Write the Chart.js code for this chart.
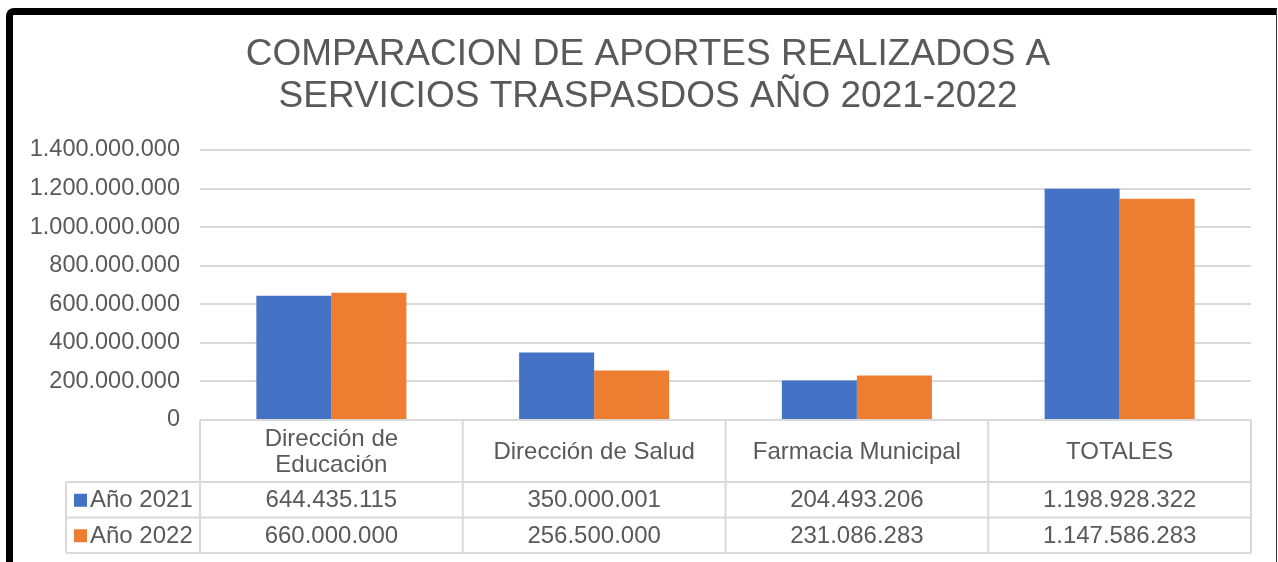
<!DOCTYPE html>
<html>
<head>
<meta charset="utf-8">
<script src="https://cdn.jsdelivr.net/npm/chart.js@4"></script>
<style>
  html, body { margin: 0; padding: 0; background: #fff; }
  #wrap { position: relative; width: 1278px; height: 562px; overflow: hidden; }
  #frame {
    position: absolute; left: 6px; top: 8px; width: 1263px; height: 600px;
    border-top: 7px solid #000; border-left: 7px solid #000; border-right: 1px solid #333;
    border-top-left-radius: 8px;
  }
  #box { position: absolute; left: 0; top: 0; width: 1278px; height: 562px; }
</style>
</head>
<body>
<div id="wrap">
  <div id="frame"></div>
  <div id="box"><canvas id="barChart"></canvas></div>
</div>
<script>
// data
const categories = [['Dirección de', 'Educación'], 'Dirección de Salud', 'Farmacia Municipal', 'TOTALES'];
const seriesNames = ['Año 2021', 'Año 2022'];
const year2021 = [644435115, 350000001, 204493206, 1198928322];
const year2022 = [660000000, 256500000, 231086283, 1147586283];
const yMin = 0, yMax = 1400000000, yStep = 200000000;

const textColor = '#595959';
const lineColor = '#d9d9d9';
const fontFamily = "'Liberation Sans', Arial, sans-serif";

// 1234567 -> 1.234.567
function fmt(v) {
    return String(Math.round(v)).replace(/\B(?=(\d{3})+(?!\d))/g, '.');
}

// the title in the picture is centred a bit right of the canvas centre
const shiftTitle = {
    id: 'shiftTitle',
    afterLayout(chart) {
        const t = chart.titleBlock;
        if (t) {
            t.left = 45;
            t.right = chart.chartArea.right;
            t.width = t.right - t.left;
        }
    }
};

// data table under the plot (like the Excel one)
const dataTable = {
    id: 'dataTable',
    afterDraw(chart) {
        const ctx = chart.ctx;
        const x = chart.scales.x;
        const area = chart.chartArea;
        const n = chart.data.labels.length;
        const colW = (area.right - area.left) / n;
        const top = area.bottom;
        const headBottom = top + 62;
        const rowH = 35.5;
        const legendLeft = 66;
        const bottom = headBottom + rowH * 2;

        ctx.save();
        ctx.strokeStyle = lineColor;
        ctx.lineWidth = 2;
        ctx.beginPath();
        // horizontal lines
        ctx.moveTo(area.left, top); ctx.lineTo(area.right, top);
        for (let r = 0; r <= 2; r++) {
            const y = headBottom + r * rowH;
            ctx.moveTo(legendLeft, y); ctx.lineTo(area.right, y);
        }
        // vertical lines
        ctx.moveTo(legendLeft, headBottom); ctx.lineTo(legendLeft, bottom);
        for (let i = 0; i <= n; i++) {
            const xx = area.left + i * colW;
            ctx.moveTo(xx, top); ctx.lineTo(xx, bottom);
        }
        ctx.stroke();

        ctx.fillStyle = textColor;
        ctx.font = '24px ' + fontFamily;
        ctx.textAlign = 'center';
        ctx.textBaseline = 'middle';

        // header labels
        chart.data.labels.forEach((lab, i) => {
            const cx = x.getPixelForValue(i);
            const lines = Array.isArray(lab) ? lab : [lab];
            const lh = 26;
            const midY = (top + headBottom) / 2 + 1;
            lines.forEach((t, k) => {
                ctx.fillText(t, cx, midY + (k - (lines.length - 1) / 2) * lh);
            });
        });

        // rows
        chart.data.datasets.forEach((ds, r) => {
            const cy = headBottom + r * rowH + rowH / 2 + 1;
            ds.data.forEach((v, i) => {
                ctx.fillText(fmt(v), x.getPixelForValue(i), cy);
            });
            ctx.fillStyle = ds.backgroundColor;
            ctx.fillRect(legendLeft + 8, cy - 7, 13, 13);
            ctx.fillStyle = textColor;
            ctx.textAlign = 'left';
            ctx.fillText(ds.label, legendLeft + 24, cy);
            ctx.textAlign = 'center';
        });
        ctx.restore();
    }
};

const ctx = document.getElementById('barChart').getContext('2d');
const chart = new Chart(ctx, {
    type: 'bar',
    data: {
        labels: categories,
        datasets: [
            { label: seriesNames[0], data: year2021, backgroundColor: '#4472C4' },
            { label: seriesNames[1], data: year2022, backgroundColor: '#ED7D31' }
        ]
    },
    options: {
        responsive: true,
        maintainAspectRatio: false,
        animation: false,
        layout: { padding: { left: 16, right: 27, top: 0, bottom: 142 } },
        datasets: { bar: { categoryPercentage: 0.571, barPercentage: 1.0 } },
        plugins: {
            legend: { display: false },
            tooltip: { enabled: false },
            title: {
                display: true,
                text: ['COMPARACION DE APORTES REALIZADOS A', 'SERVICIOS TRASPASDOS AÑO 2021-2022'],
                color: textColor,
                font: { family: fontFamily, size: 37, weight: 'normal', lineHeight: 1.135 },
                padding: { top: 34, bottom: 32 }
            }
        },
        scales: {
            x: { display: false },
            y: {
                min: yMin,
                max: yMax,
                afterFit(scale) { scale.width = 184; },
                border: { display: false },
                grid: { color: lineColor, lineWidth: 2, drawTicks: false },
                ticks: {
                    stepSize: yStep,
                    padding: 20,
                    color: textColor,
                    font: { family: fontFamily, size: 23.5 },
                    callback: v => fmt(v)
                }
            }
        }
    },
    plugins: [shiftTitle, dataTable]
});
</script>
</body>
</html>
